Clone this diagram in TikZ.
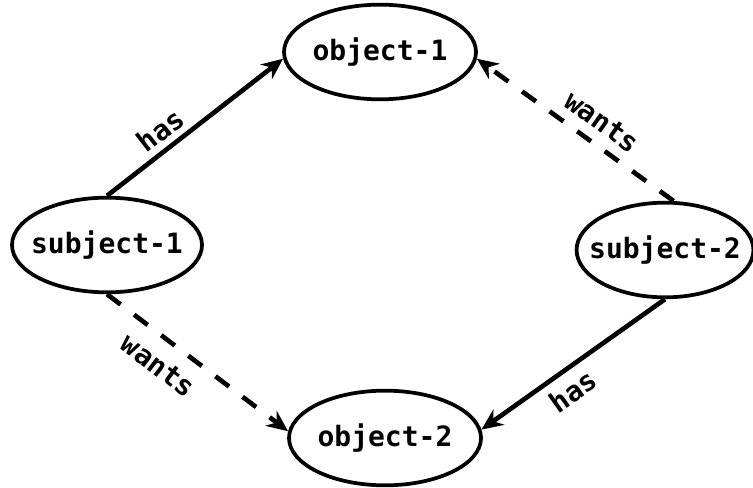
\documentclass[tikz,border=0pt]{standalone}
\usepackage{fontspec}
\setmonofont{DejaVu Sans Mono}
\usetikzlibrary{shapes.geometric,arrows.meta}

\begin{document}
\begin{tikzpicture}[x=0.75pt,y=-0.75pt,
    every node/.style={font=\ttfamily\bfseries\fontsize{21}{24}\selectfont},
    thing/.style={draw, ellipse, line width=2.8pt, inner xsep=-10pt, minimum height=71pt},
    has/.style={-{Stealth[length=16pt,width=14pt]}, line width=3.5pt},
    wants/.style={has, dash pattern=on 12.75pt off 12.75pt}]
  \useasboundingbox (0,0) rectangle (753,488);

  \node[thing, minimum width=144pt] (o1) at (380,52) {object-1};
  \node[thing, minimum width=144pt] (o2) at (385,438) {object-2};
  \node[thing, minimum width=142.5pt] (s1) at (107,245) {subject-1};
  \node[thing, minimum width=131pt] (s2) at (665,250) {subject-2};

  \draw[has] (s1.north) -- (o1.184) node[pos=0.37, sloped, above=1pt] {has};
  \draw[wants] (s2.80) -- (o1.-4) node[pos=0.43, sloped, above=4pt] {wants};
  \draw[wants] (s1.south) -- (o2.176) node[pos=0.37, sloped, below=7pt] {wants};
  \draw[has] (s2.south) -- (o2.5) node[pos=0.57, sloped, below=3pt] {has};
\end{tikzpicture}
\end{document}
